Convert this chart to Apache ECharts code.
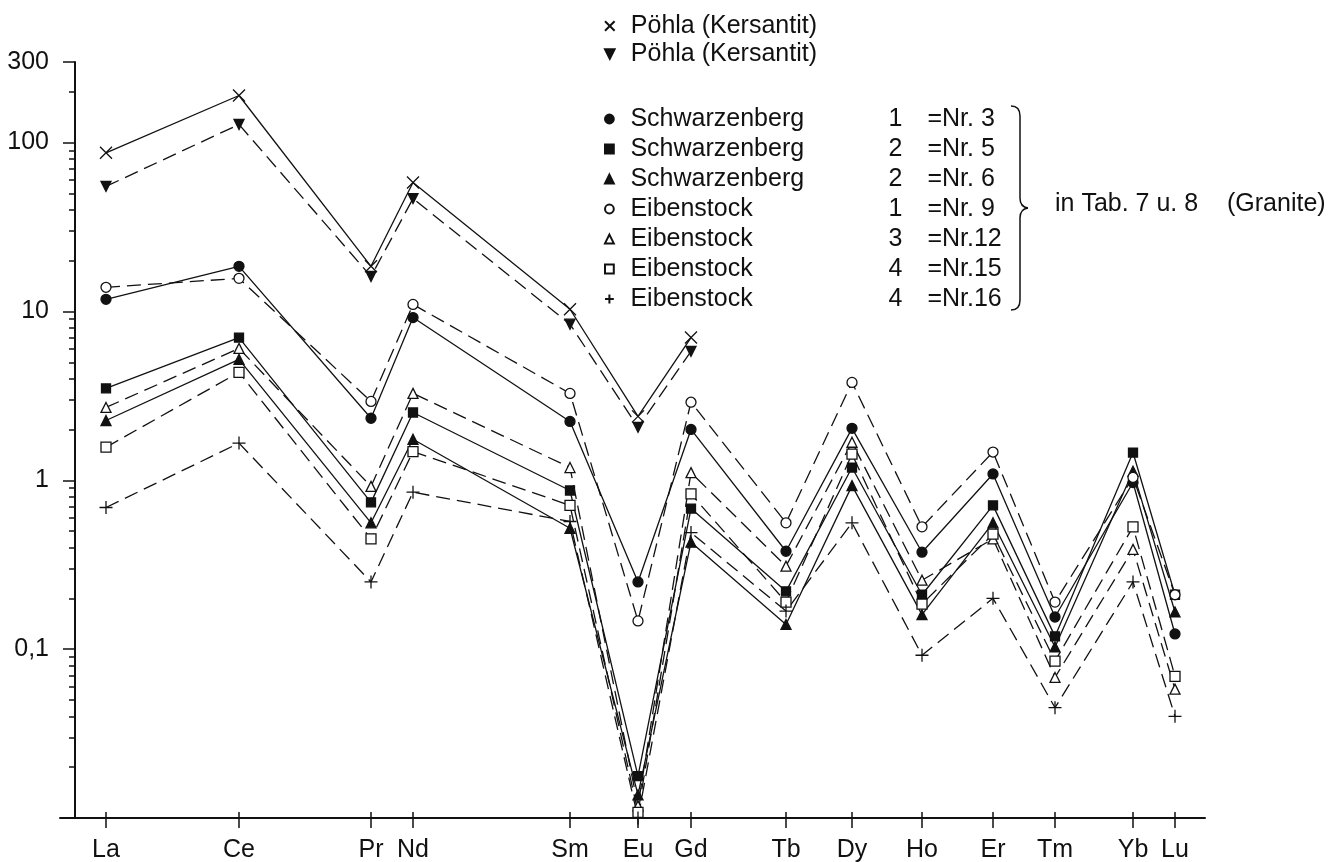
<!DOCTYPE html>
<html>
<head>
<meta charset="utf-8">
<script src="https://cdn.jsdelivr.net/npm/echarts@6/dist/echarts.min.js"></script>
<style>
  html, body { margin: 0; padding: 0; background: #fff; }
  #main { width: 1338px; height: 862px; }
</style>
</head>
<body>
<div id="main"></div>
<script>
var myChart = echarts.init(document.getElementById('main'));

// Seltene Erden, Lage auf der x-Achse (ungleiche Abstaende wie im Original)
const elements = ['La', 'Ce', 'Pr', 'Nd', 'Sm', 'Eu', 'Gd', 'Tb', 'Dy', 'Ho', 'Er', 'Tm', 'Yb', 'Lu'];
const elementPos = [31, 164, 296, 338, 495, 563, 616, 711, 777, 847, 918, 980, 1058, 1100];

// normierte Gehalte (Chondrit = 1)
const poehlaCross = [87, 190, 18.5, 58, 10.3, 2.39, 7.0, null, null, null, null, null, null, null];
const poehlaTri = [55, 128, 16.1, 46.6, 8.4, 2.06, 5.8, null, null, null, null, null, null, null];
const schw3 = [11.8, 18.5, 2.33, 9.2, 2.23, 0.25, 2.0, 0.38, 2.03, 0.375, 1.09, 0.155, 0.97, 0.123];
const schw5 = [3.5, 7.0, 0.74, 2.52, 0.87, 0.0177, 0.68, 0.22, 1.19, 0.21, 0.71, 0.119, 1.46, 0.21];
const schw6 = [2.26, 5.2, 0.56, 1.75, 0.52, 0.0137, 0.43, 0.14, 0.93, 0.16, 0.56, 0.103, 1.13, 0.166];
const eib9 = [13.9, 15.7, 2.93, 11.0, 3.27, 0.147, 2.9, 0.56, 3.8, 0.53, 1.47, 0.19, 1.04, 0.21];
const eib12 = [2.7, 6.04, 0.92, 3.27, 1.19, 0.0118, 1.11, 0.31, 1.68, 0.256, 0.45, 0.068, 0.39, 0.058];
const eib15 = [1.57, 4.36, 0.45, 1.48, 0.71, 0.0108, 0.83, 0.19, 1.43, 0.185, 0.48, 0.085, 0.53, 0.069];
const eib16 = [0.69, 1.66, 0.25, 0.85, 0.57, 0.01, 0.49, 0.168, 0.56, 0.092, 0.2, 0.045, 0.25, 0.040];

// Legende
const seriesKeys = ['px', 'pv', 'nr3', 'nr5', 'nr6', 'nr9', 'nr12', 'nr15', 'nr16'];
const sampleSites = ['Pöhla (Kersantit)', 'Pöhla (Kersantit)', 'Schwarzenberg', 'Schwarzenberg', 'Schwarzenberg',
                     'Eibenstock', 'Eibenstock', 'Eibenstock', 'Eibenstock'];
const sampleGroups = ['', '', '1', '2', '2', '1', '3', '4', '4'];
const sampleNr = ['', '', '=Nr. 3', '=Nr. 5', '=Nr. 6', '=Nr. 9', '=Nr.12', '=Nr.15', '=Nr.16'];

// y-Achse: Zwischenstriche
const minorTicks = [0.02, 0.03, 0.04, 0.05, 0.06, 0.07, 0.08, 0.09,
                    0.2, 0.3, 0.4, 0.5, 0.6, 0.7, 0.8, 0.9,
                    2, 3, 4, 5, 6, 7, 8, 9,
                    20, 30, 40, 50, 60, 70, 80, 90, 200];

const FONT = 'Liberation Sans';
const INK = '#111';

const crossPath = 'path://M0,0L10,10M10,0L0,10';
const plusPath = 'path://M5,0L5,10M0,5L10,5';

function pairs(values) {
    let out = [];
    values.forEach((v, i) => {
        if (v !== null) out.push([elementPos[i], v]);
    });
    return out;
}

function mkSeries(key, values, symbol, size, fill, dashed, rotate) {
    return {
        name: key,
        type: 'line',
        data: pairs(values),
        symbol: symbol,
        symbolSize: size,
        symbolRotate: rotate || 0,
        showAllSymbol: true,
        itemStyle: { color: fill, borderColor: INK, borderWidth: 1.3 },
        lineStyle: { color: INK, width: 1.3, type: dashed ? [14, 7] : 'solid' },
        emphasis: { disabled: true },
        clip: false,
        z: 3
    };
}

function legendText(name) {
    let i = seriesKeys.indexOf(name);
    if (sampleGroups[i] === '') return '{s|' + sampleSites[i] + '}';
    return '{s|' + sampleSites[i] + '}{g|' + sampleGroups[i] + '}{n|' + sampleNr[i] + '}';
}

const richText = {
    s: { fontFamily: FONT, fontSize: 25, color: INK, width: 258, padding: [0, 0, 0, 11] },
    g: { fontFamily: FONT, fontSize: 25, color: INK, width: 39 },
    n: { fontFamily: FONT, fontSize: 25, color: INK }
};

// geschweifte Klammer rechts neben der Legende
const braceStyle = { fill: 'none', stroke: INK, lineWidth: 1.5 };
const brace = [
    { type: 'bezierCurve', shape: { x1: 1011, y1: 106, cpx1: 1020, cpy1: 106, x2: 1020, y2: 116 }, style: braceStyle },
    { type: 'line', shape: { x1: 1020, y1: 116, x2: 1020, y2: 198 }, style: braceStyle },
    { type: 'bezierCurve', shape: { x1: 1020, y1: 198, cpx1: 1020, cpy1: 207, x2: 1028, y2: 208 }, style: braceStyle },
    { type: 'bezierCurve', shape: { x1: 1028, y1: 208, cpx1: 1020, cpy1: 209, x2: 1020, y2: 218 }, style: braceStyle },
    { type: 'line', shape: { x1: 1020, y1: 218, x2: 1020, y2: 300 }, style: braceStyle },
    { type: 'bezierCurve', shape: { x1: 1020, y1: 300, cpx1: 1020, cpy1: 310, x2: 1011, y2: 310 }, style: braceStyle }
];

var option = {
    backgroundColor: '#fff',
    animation: false,
    grid: { left: 60, right: 133, top: 62, bottom: 44, containLabel: false, outerBoundsMode: 'none' },
    legend: [
        {
            data: seriesKeys.slice(0, 2),
            orient: 'vertical',
            left: 599, top: 7,
            itemWidth: 10, itemHeight: 12, itemGap: 0,
            selectedMode: false,
            lineStyle: { width: 0, opacity: 0 },
            formatter: legendText,
            textStyle: { lineHeight: 28, rich: richText }
        },
        {
            data: seriesKeys.slice(2),
            orient: 'vertical',
            left: 599, top: 99,
            itemWidth: 10, itemHeight: 11, itemGap: 0,
            selectedMode: false,
            lineStyle: { width: 0, opacity: 0 },
            formatter: legendText,
            textStyle: { lineHeight: 30, rich: richText }
        }
    ],
    xAxis: [
        {
            type: 'value', min: -15, max: 1130, position: 'bottom',
            axisLine: { onZero: false, lineStyle: { color: INK, width: 2 } },
            axisTick: { customValues: elementPos, length: 10, lineStyle: { color: INK, width: 1.5 } },
            axisLabel: {
                customValues: elementPos, margin: 20,
                fontFamily: FONT, fontSize: 25, color: INK,
                formatter: v => elements[elementPos.indexOf(v)]
            },
            splitLine: { show: false }
        },
        {
            type: 'value', min: -15, max: 1130, position: 'bottom',
            axisLine: { show: false, onZero: false },
            axisTick: { customValues: elementPos, inside: true, length: 6, lineStyle: { color: INK, width: 1.5 } },
            axisLabel: { show: false },
            splitLine: { show: false }
        }
    ],
    yAxis: [
        {
            type: 'log', min: 0.01, max: 300, position: 'left',
            axisLine: { show: true, lineStyle: { color: INK, width: 2 } },
            axisTick: { show: true, length: 12, lineStyle: { color: INK, width: 1.5 } },
            axisLabel: {
                margin: 11, fontFamily: FONT, fontSize: 25, color: INK,
                formatter: function (v) {
                    if (v < 0.05) return '';
                    if (v < 1) return '0,1';
                    return String(Math.round(v));
                }
            },
            splitLine: { show: false }
        },
        {
            type: 'value', min: -2, max: Math.log10(300), position: 'left',
            axisLine: { show: false },
            axisTick: { customValues: minorTicks.map(Math.log10), length: 6, lineStyle: { color: INK, width: 1.5 } },
            axisLabel: { show: false },
            splitLine: { show: false }
        }
    ],
    graphic: brace.concat([
        {
            type: 'text', left: 1055, top: 192,
            style: { text: 'in Tab. 7 u. 8', fontFamily: FONT, fontSize: 25, fill: INK }
        },
        {
            type: 'text', left: 1227, top: 192,
            style: { text: '(Granite)', fontFamily: FONT, fontSize: 25, fill: INK }
        }
    ]),
    series: [
        mkSeries('px', poehlaCross, crossPath, 12, INK, false),
        mkSeries('pv', poehlaTri, 'triangle', 10, INK, true, 180),
        mkSeries('nr3', schw3, 'circle', 10, INK, false),
        mkSeries('nr5', schw5, 'rect', 9, INK, false),
        mkSeries('nr6', schw6, 'triangle', 10, INK, false),
        mkSeries('nr9', eib9, 'circle', 10, '#fff', true),
        mkSeries('nr12', eib12, 'triangle', 10, '#fff', true),
        mkSeries('nr15', eib15, 'rect', 10, '#fff', true),
        mkSeries('nr16', eib16, plusPath, 13, INK, true)
    ]
};
myChart.setOption(option);
</script>
</body>
</html>
